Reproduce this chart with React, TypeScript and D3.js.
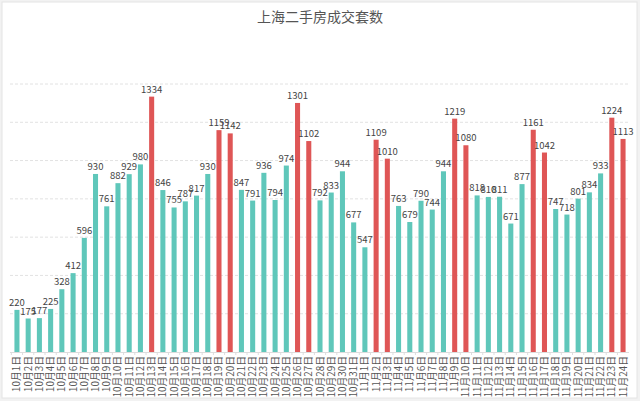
import React from "react";
import * as d3 from "d3";

const title = "上海二手房成交套数";

const octDays: string[] = Array.from({ length: 31 }, (_, i) => `10月${i + 1}日`);
const novDays: string[] = Array.from({ length: 24 }, (_, i) => `11月${i + 1}日`);
const dates: string[] = [...octDays, ...novDays];

const deals: number[] = [
  220, 175, 177, 225, 328, 412, 596, 930, 761, 882, 929, 980, 1334, 846, 755,
  787, 817, 930, 1159, 1142, 847, 791, 936, 794, 974, 1301, 1102, 792, 833, 944,
  677, 547, 1109, 1010, 763, 679, 790, 744, 944, 1219, 1080, 818, 810, 811, 671,
  877, 1161, 1042, 747, 718, 801, 834, 933, 1224, 1113,
];

// days shown in red (values above 1000)
const highlightThreshold = 1000;

const yTicks: number[] = [200, 400, 600, 800, 1000, 1200, 1400];

const W = 640;
const H = 401;
const left = 11.4;
const right = 628.6;
const top = 84;
const bottom = 352;

const TEAL = "#5fc7ba";
const RED = "#df5656";

export default function App() {
  const x = d3
    .scaleBand<string>()
    .domain(dates)
    .range([left, right])
    .paddingInner(0.55)
    .paddingOuter(0.27);
  const y = d3.scaleLinear().domain([0, 1400]).range([bottom, top]);
  const bw = x.bandwidth();

  return (
    <svg
      width={W}
      height={H}
      style={{ position: "absolute", left: 0, top: 0, background: "#fff" }}
      fontFamily="'Microsoft YaHei', 'Noto Sans CJK SC', sans-serif"
    >
      <rect x={0} y={0} width={W} height={H} fill="#f2f2f2" />
      <rect x={2} y={2} width={635} height={396} fill="#fff" stroke="#e4e4e4" />
      <text x={320} y={22} textAnchor="middle" fontSize={14} fill="#555">
        {title}
      </text>
      {yTicks.map((t) => (
        <line
          key={t}
          x1={10}
          x2={629}
          y1={y(t)}
          y2={y(t)}
          stroke="#e2e2e2"
          strokeDasharray="3,2"
        />
      ))}
      <line x1={10} x2={629} y1={bottom + 0.5} y2={bottom + 0.5} stroke="#ddd" />
      {dates.map((d) => (
        <line
          key={"t" + d}
          x1={(x(d) ?? 0) + bw / 2 - x.step() / 2}
          x2={(x(d) ?? 0) + bw / 2 - x.step() / 2}
          y1={bottom}
          y2={bottom + 3}
          stroke="#ddd"
        />
      ))}
      {deals.map((v, i) => {
        const d = dates[i];
        const bx = x(d) ?? 0;
        return (
          <g key={d}>
            <rect
              x={bx}
              y={y(v)}
              width={bw}
              height={bottom - y(v)}
              fill={v > highlightThreshold ? RED : TEAL}
            />
            <text
              x={bx + bw / 2}
              y={y(v) - 4}
              textAnchor="middle"
              fontSize={9.5}
              fill="#444"
            >
              {v}
            </text>
          </g>
        );
      })}
      {dates.map((d) => {
        const cx = (x(d) ?? 0) + bw / 2;
        return (
          <text
            key={"l" + d}
            transform={`translate(${cx + 3.5},${bottom + 4}) rotate(-90)`}
            textAnchor="end"
            fontSize={9.8}
            fill="#555"
          >
            {d}
          </text>
        );
      })}
    </svg>
  );
}
